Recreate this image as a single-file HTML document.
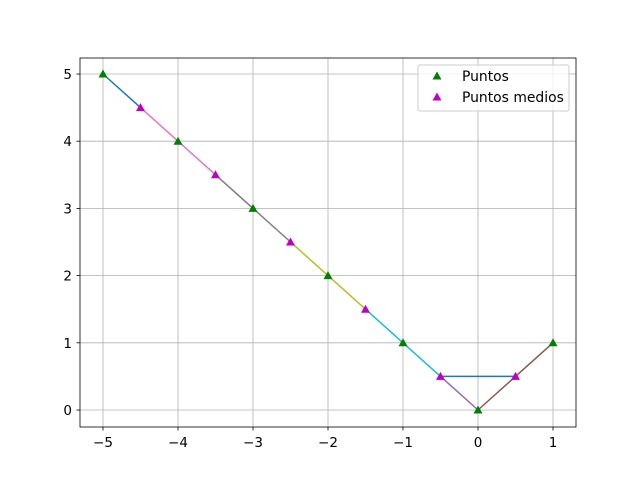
<!DOCTYPE html>
<html><head><meta charset="utf-8"><style>body{margin:0;background:#fff}svg{font-family:"DejaVu Sans","Liberation Sans",sans-serif}</style></head>
<body>
<svg id="c" width="640" height="480"></svg>
<script>
const ptsX=[-5,-4,-3,-2,-1,0,1];
const ptsY=[5,4,3,2,1,0,1];
const midX=[-4.5,-3.5,-2.5,-1.5,-0.5,0.5];
const midY=[4.5,3.5,2.5,1.5,0.5,0.5];
const segX1=[-5,-4.5,-3.5,-2.5,-1.5,-0.5,-0.5,0,0.5];
const segY1=[5,4.5,3.5,2.5,1.5,0.5,0.5,0,0.5];
const segX2=[-4.5,-3.5,-2.5,-1.5,-0.5,0.5,0,0.5,1];
const segY2=[4.5,3.5,2.5,1.5,0.5,0.5,0,0.5,1];
const segC=['#1f77b4','#e377c2','#7f7f7f','#bcbd22','#17becf','#1f77b4','#9467bd','#8c564b','#8c564b'];
const xTicks=[-5,-4,-3,-2,-1,0,1];
const yTicks=[0,1,2,3,4,5];
const L=80,R=576,T=58,B=427;
const sx=v=>103+(v+5)*75, sy=v=>410-v*67.2;
const s=document.getElementById('c');
const NS='http://www.w3.org/2000/svg';
function mk(t,a,p){const e=document.createElementNS(NS,t);for(const k in a)e.setAttribute(k,a[k]);(p||s).appendChild(e);return e;}
xTicks.forEach(v=>{
 const g=mk('line',{x1:sx(v),x2:sx(v),y1:T,y2:B,stroke:'#b0b0b0','stroke-width':0.8});
 
 
 mk('line',{x1:sx(v),x2:sx(v),y1:B,y2:B+3.5,stroke:'#000','stroke-width':0.8});
 const t=mk('text',{x:sx(v),y:B+20,'text-anchor':'middle','font-size':13.5});t.textContent=(v<0?'\u2212'+(-v):v);
 
 
});
yTicks.forEach(v=>{
 const g=mk('line',{x1:L,x2:R,y1:sy(v),y2:sy(v),stroke:'#b0b0b0','stroke-width':0.8});
 
 
 mk('line',{x1:L-3.5,x2:L,y1:sy(v),y2:sy(v),stroke:'#000','stroke-width':0.8});
 const t=mk('text',{x:L-8,y:sy(v)+5,'text-anchor':'end','font-size':13.5});t.textContent=v;
 
 
});
segX1.forEach((v,i)=>{
 const l=mk('line',{x1:sx(v),y1:sy(segY1[i]),x2:sx(segX2[i]),y2:sy(segY2[i]),stroke:segC[i],'stroke-width':1.5});
 
 
});
function tri(x,y,c){return mk('polygon',{points:`${x},${y-4.5} ${x-4.5},${y+3.5} ${x+4.5},${y+3.5}`,fill:c});}
ptsX.forEach((v,i)=>{const p=tri(sx(v),sy(ptsY[i]),'green');
 
 });
midX.forEach((v,i)=>{const p=tri(sx(v),sy(midY[i]),'#bf00bf');
 
 });
const fr=mk('rect',{x:L,y:T,width:R-L,height:B-T,fill:'none',stroke:'#000','stroke-width':0.8});


const lg=mk('g',{});


mk('rect',{x:418,y:65,width:151,height:46,rx:2,fill:'#fff','fill-opacity':0.8,stroke:'#ccc'},lg);
tri(437,76,'green');lg.appendChild(s.lastChild);
tri(437,97,'#bf00bf');lg.appendChild(s.lastChild);
const t1=mk('text',{x:462,y:81,'font-size':13.9},lg);t1.textContent='Puntos';


const t2=mk('text',{x:462,y:102,'font-size':13.9},lg);t2.textContent='Puntos medios';


</script>
</body></html>
